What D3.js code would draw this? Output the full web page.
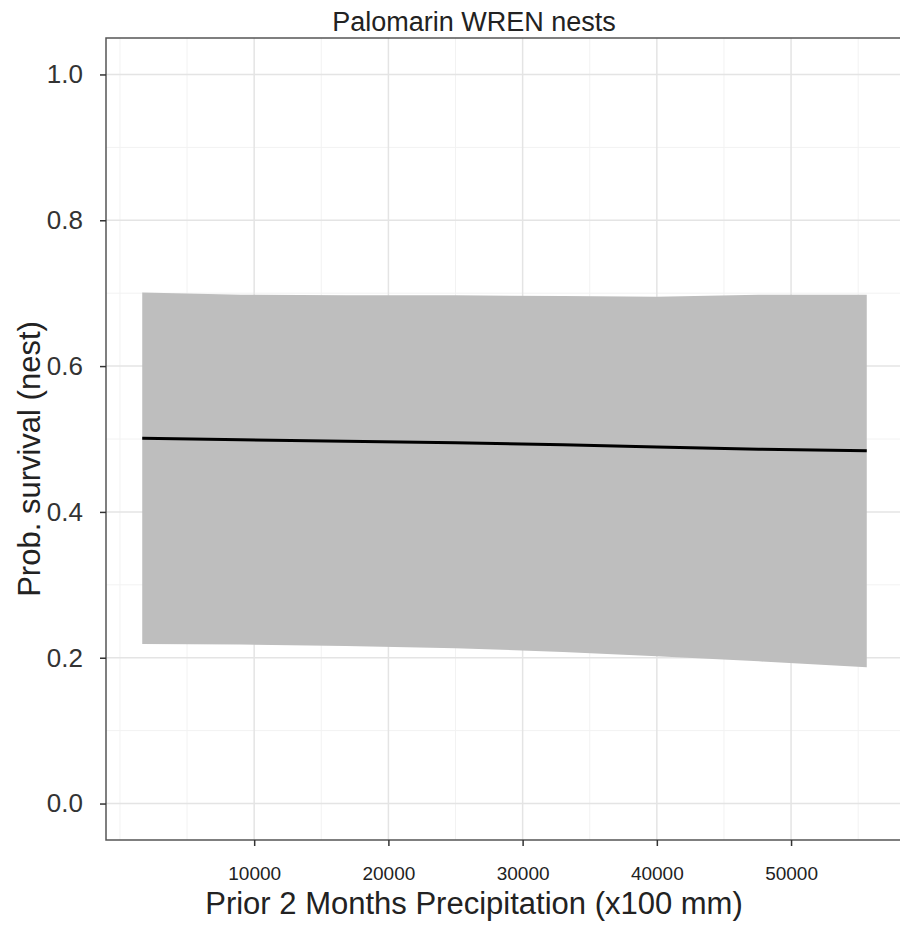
<!DOCTYPE html>
<html>
<head>
<meta charset="utf-8">
<script src="https://cdn.jsdelivr.net/npm/d3@7"></script>
<style>
    body { margin: 0; background: #fff; }
    text { font-family: "Liberation Sans", Arial, sans-serif; }
</style>
</head>
<body>
<svg id="chart" width="900" height="926"></svg>
<script>
// Prior 2 months precipitation (x100 mm)
let precip = [1660, 9000, 16800, 25000, 33000, 40000, 47600, 55640];
// Predicted nest survival and its confidence band
let survival = [0.501, 0.499, 0.497, 0.495, 0.492, 0.489, 0.486, 0.484];
let upper = [0.701, 0.698, 0.697, 0.697, 0.696, 0.695, 0.698, 0.698];
let lower = [0.219, 0.218, 0.216, 0.213, 0.208, 0.202, 0.195, 0.187];

let xTicks = [10000, 20000, 30000, 40000, 50000];
let xMinor = [0, 5000, 15000, 25000, 35000, 45000, 55000];
let yTicks = [0.0, 0.2, 0.4, 0.6, 0.8, 1.0];
let yMinor = [0.1, 0.3, 0.5, 0.7, 0.9];

let svg = d3.select("#chart");

// Panel box
let panel = {left: 106, right: 903, top: 38, bottom: 840};

let data = precip.map(function (p, i) {
    return {x: p, y: survival[i], lo: lower[i], hi: upper[i]};
});

let x = d3.scaleLinear().domain([-1040, 58340]).range([panel.left, panel.right]);
let y = d3.scaleLinear().domain([-0.05, 1.05]).range([panel.bottom, panel.top]);

// Grid lines, minor first then major
let grid = svg.append("g");
grid.selectAll(".xminor").data(xMinor).enter().append("line")
    .attr("x1", d => x(d)).attr("x2", d => x(d))
    .attr("y1", panel.top).attr("y2", panel.bottom)
    .attr("stroke", "#f2f2f2").attr("stroke-width", 1);
grid.selectAll(".yminor").data(yMinor).enter().append("line")
    .attr("x1", panel.left).attr("x2", panel.right)
    .attr("y1", d => y(d)).attr("y2", d => y(d))
    .attr("stroke", "#f2f2f2").attr("stroke-width", 1);
grid.selectAll(".xmajor").data(xTicks).enter().append("line")
    .attr("x1", d => x(d)).attr("x2", d => x(d))
    .attr("y1", panel.top).attr("y2", panel.bottom)
    .attr("stroke", "#e4e4e4").attr("stroke-width", 1.5);
grid.selectAll(".ymajor").data(yTicks).enter().append("line")
    .attr("x1", panel.left).attr("x2", panel.right)
    .attr("y1", d => y(d)).attr("y2", d => y(d))
    .attr("stroke", "#e4e4e4").attr("stroke-width", 1.5);

// Confidence ribbon
let area = d3.area()
    .x(d => x(d.x))
    .y0(d => y(d.lo))
    .y1(d => y(d.hi));
svg.append("path").datum(data)
    .attr("d", area)
    .attr("fill", "#bebebe");

// Fitted line
let line = d3.line().x(d => x(d.x)).y(d => y(d.y));
svg.append("path").datum(data)
    .attr("d", line)
    .attr("fill", "none")
    .attr("stroke", "#000")
    .attr("stroke-width", 3);

// Panel border
svg.append("rect")
    .attr("x", panel.left).attr("y", panel.top)
    .attr("width", panel.right - panel.left).attr("height", panel.bottom - panel.top)
    .attr("fill", "none")
    .attr("stroke", "#555")
    .attr("stroke-width", 1.5);

// Axes
let xAxis = svg.append("g")
    .attr("transform", "translate(0," + panel.bottom + ")")
    .call(d3.axisBottom(x).tickValues(xTicks).tickSize(6).tickPadding(21).tickFormat(d3.format("d")));
xAxis.select(".domain").remove();
xAxis.selectAll("line").attr("stroke", "#333").attr("stroke-width", 1.5);
xAxis.selectAll("text").attr("font-size", "19px").attr("fill", "#222");

let yAxis = svg.append("g")
    .attr("transform", "translate(" + panel.left + ",0)")
    .call(d3.axisLeft(y).tickValues(yTicks).tickSize(6).tickPadding(17).tickFormat(d3.format(".1f")));
yAxis.select(".domain").remove();
yAxis.selectAll("line").attr("stroke", "#333").attr("stroke-width", 1.5);
yAxis.selectAll("text").attr("font-size", "26px").attr("fill", "#333");

// Title and axis titles
svg.append("text")
    .attr("x", 474).attr("y", 31)
    .attr("text-anchor", "middle")
    .attr("font-size", "27px")
    .attr("fill", "#222")
    .text("Palomarin WREN nests");

svg.append("text")
    .attr("x", 474).attr("y", 914)
    .attr("text-anchor", "middle")
    .attr("font-size", "31px")
    .attr("fill", "#222")
    .text("Prior 2 Months Precipitation (x100 mm)");

svg.append("text")
    .attr("transform", "translate(40,459) rotate(-90)")
    .attr("text-anchor", "middle")
    .attr("font-size", "31px")
    .attr("fill", "#222")
    .text("Prob. survival (nest)");
</script>
</body>
</html>
